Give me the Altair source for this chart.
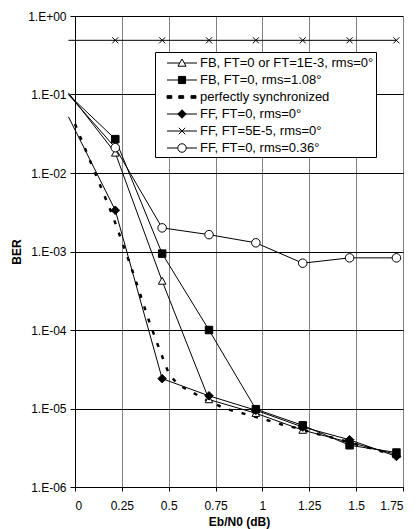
import altair as alt
import pandas as pd

# ---- data ----
x_markers = [-0.035, 0.215, 0.465, 0.715, 0.965, 1.215, 1.465, 1.715]

fb_ft0_rms0 = [0.105, 0.018, 4.2e-4, 1.3e-5, 8.7e-6, 5.3e-6, 3.7e-6, 2.6e-6]
fb_ft0_rms108 = [0.1, 0.027, 9.4e-4, 1.0e-4, 9.8e-6, 6.1e-6, 3.4e-6, 2.75e-6]
ff_ft0_rms0 = [0.052, 3.35e-3, 2.4e-5, 1.45e-5, 9.5e-6, 5.8e-6, 4.0e-6, 2.45e-6]
ff_ft5e5_rms0 = [0.49, 0.49, 0.49, 0.49, 0.49, 0.49, 0.49, 0.49]
ff_ft0_rms036 = [0.1, 0.021, 2.0e-3, 1.64e-3, 1.29e-3, 7.1e-4, 8.3e-4, 8.3e-4]

sync_x = [0, 0.1, 0.2, 0.3, 0.4, 0.45, 0.5, 0.55, 0.6, 0.7, 0.8, 0.9, 1.0,
          1.1, 1.2, 1.3, 1.4, 1.5, 1.6, 1.75]
sync_y = [0.042, 0.011, 2.9e-3, 6.3e-4, 1.2e-4, 5.75e-5, 2.8e-5, 2.0e-5,
          1.74e-5, 1.29e-5, 1.0e-5, 8.6e-6, 7.4e-6, 6.3e-6, 5.5e-6, 4.7e-6,
          4.1e-6, 3.5e-6, 3.0e-6, 2.4e-6]

series_names = [
    "FB, FT=0 or FT=1E-3, rms=0°",
    "FB, FT=0, rms=1.08°",
    "perfectly synchronized",
    "FF, FT=0, rms=0°",
    "FF, FT=5E-5, rms=0°",
    "FF, FT=0, rms=0.36°",
]
x_ticks = [0, 0.25, 0.5, 0.75, 1, 1.25, 1.5, 1.75]
y_ticks = [1e-6, 1e-5, 1e-4, 1e-3, 1e-2, 1e-1, 1]

# ---- long table ----
rows = []
marker_series = [
    (series_names[0], fb_ft0_rms0),
    (series_names[1], fb_ft0_rms108),
    (series_names[3], ff_ft0_rms0),
    (series_names[4], ff_ft5e5_rms0),
    (series_names[5], ff_ft0_rms036),
]
for name, vals in marker_series:
    for xv, yv in zip(x_markers, vals):
        rows.append({"series": name, "x": xv, "ber": yv})
for xv, yv in zip(sync_x, sync_y):
    rows.append({"series": series_names[2], "x": xv, "ber": yv})
df = pd.DataFrame(rows)

# marker shapes on the chart (custom paths, unit = sqrt(size)/2 px)
chart_shapes = [
    "M0,-0.85L0.85,0.7L-0.85,0.7Z",
    "M-0.83,-0.83H0.83V0.83H-0.83Z",
    "M0,0",
    "M0,-0.95L0.95,0L0,0.95L-0.95,0Z",
    "M-0.67,-0.67L0.67,0.67M-0.67,0.67L0.67,-0.67",
    "M-0.95,0A0.95,0.95 0 1,0 0.95,0A0.95,0.95 0 1,0 -0.95,0Z",
]
# legend symbols: line segment + marker
legend_shapes = [
    "M-1.76,0H-0.27M0.27,0H1.76M0,-0.47L0.47,0.38L-0.47,0.38Z",
    "M-1.76,0H1.76M-0.42,-0.42H0.42V0.42H-0.42Z",
    "M-1.76,-0.16H-1.2V0.16H-1.76Z M-0.38,-0.16H0.2V0.16H-0.38Z M1.06,-0.16H1.64V0.16H1.06Z",
    "M-1.76,0H1.76M0,-0.5L0.5,0L0,0.5L-0.5,0Z",
    "M-1.76,0H1.76M-0.38,-0.38L0.38,0.38M-0.38,0.38L0.38,-0.38",
    "M-1.76,0H-0.5M0.5,0H1.76M-0.5,0A0.5,0.5 0 1,0 0.5,0A0.5,0.5 0 1,0 -0.5,0Z",
]
fills = ["white", "black", "black", "black", "black", "white"]
strokes = ["black", "black", "black", "black", "black", "black"]

FONT = "Liberation Sans"

x_enc = alt.X(
    "x:Q",
    scale=alt.Scale(domain=[0, 1.75], nice=False, zero=False),
    axis=alt.Axis(
        values=x_ticks, format=".2~f", title="Eb/N0 (dB)",
        grid=True, gridColor="#808080", gridWidth=1,
        tickSize=4, labelPadding=9, titlePadding=5,
    ),
)
y_enc = alt.Y(
    "ber:Q",
    scale=alt.Scale(type="log", domain=[1e-6, 1], nice=False),
    axis=alt.Axis(
        values=y_ticks,
        labelExpr="'1.E' + (datum.value >= 0.5 ? '+00' : '-0' + format(-log(datum.value)/LN10, '.0f'))",
        title="BER", grid=True, gridColor="black", gridWidth=1,
        tickSize=5, labelPadding=4, titlePadding=4,
    ),
)

base = alt.Chart(df)

solid = base.transform_filter(
    alt.datum.series != series_names[2]
).mark_line(color="black", strokeWidth=1, clip=False).encode(
    x=x_enc, y=y_enc, detail="series:N", order="x:Q"
)

dashed = base.transform_filter(
    alt.datum.series == series_names[2]
).mark_line(color="black", strokeWidth=2.5, strokeDash=[4, 9], strokeCap="butt").encode(
    x=x_enc, y=y_enc, order="x:Q"
)

points = base.transform_filter(
    (alt.datum.series != series_names[2]) & (alt.datum.x > 0)
).mark_point(filled=True, stroke="black", strokeWidth=1, size=81, opacity=1).encode(
    x=x_enc, y=y_enc,
    shape=alt.Shape("series:N", scale=alt.Scale(domain=series_names, range=chart_shapes), legend=None),
    fill=alt.Fill("series:N", scale=alt.Scale(domain=series_names, range=fills), legend=None),
)

leg = alt.Legend(title=None, orient="none", legendX=80, legendY=36,
                 labelExpr="datum.label + '    '", labelLimit=400,
                 symbolStrokeColor="black", symbolStrokeWidth=1)
legend_layer = base.transform_filter("false").mark_point(
    filled=True, strokeWidth=1, opacity=1
).encode(
    x=x_enc, y=y_enc,
    shape=alt.Shape("series:N", scale=alt.Scale(domain=series_names, range=legend_shapes), legend=leg),
    fill=alt.Fill("series:N", scale=alt.Scale(domain=series_names, range=fills), legend=leg),
    stroke=alt.Stroke("series:N", scale=alt.Scale(domain=series_names, range=strokes), legend=leg),
)

chart = alt.layer(solid, dashed, points, legend_layer).resolve_scale(
    shape="independent", fill="independent", stroke="independent"
).properties(
    width=328, height=471,
    autosize=alt.AutoSizeParams(type="none"),
    padding={"left": 67, "top": 8, "right": 5, "bottom": 42},
).configure_view(stroke=None).configure_axis(
    domainColor="black", tickColor="black", labelColor="black", titleColor="black",
    labelFont=FONT, labelFontSize=12, titleFont=FONT, titleFontSize=12, titleFontWeight="bold",
    domainWidth=1, tickWidth=1,
).configure_legend(
    symbolSize=289, symbolStrokeWidth=1,
    labelFont=FONT, labelFontSize=13, labelColor="black", labelOffset=9,
    strokeColor="black", fillColor="white", padding=2, rowPadding=1,
    symbolOffset=16,
)

chart.save("out.html", embed_options={"renderer": "svg", "actions": False})
